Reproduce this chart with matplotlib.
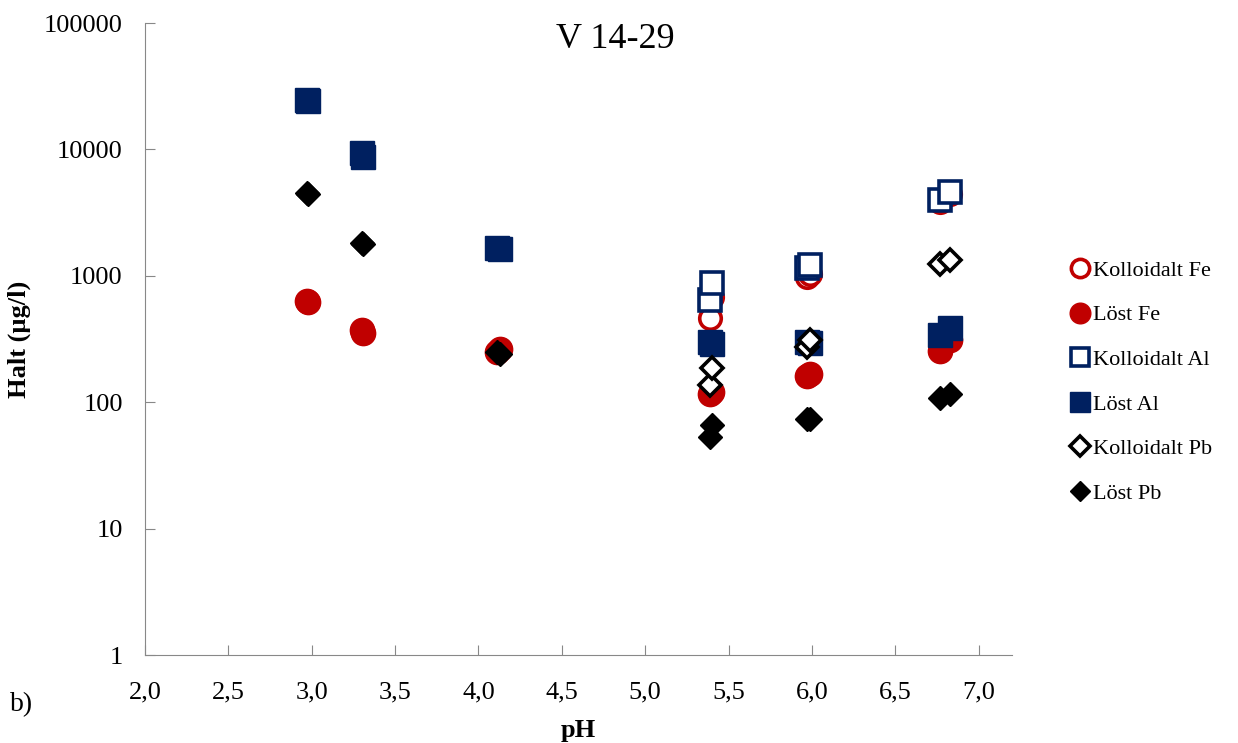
import matplotlib.pyplot as plt
import numpy as np
from matplotlib.ticker import FixedLocator, FixedFormatter

# pH for the two replicate samples at each site
ph = [2.97, 2.98, 3.30, 3.31, 4.11, 4.13, 5.39, 5.40, 5.97, 5.99, 6.77, 6.83]

# concentrations (µg/l), NaN where no point is shown
koll_fe = [np.nan, np.nan, np.nan, np.nan, np.nan, np.nan, 460, 680, 980, 1040, 3850, 4450]
lost_fe = [636, 620, 370, 350, 248, 265, 117, 120, 160, 167, 255, 310]
koll_al = [np.nan, np.nan, np.nan, np.nan, np.nan, np.nan, 640, 875, 1150, 1215, 3980, 4630]
lost_al = [24400, 24000, 9400, 8700, 1650, 1620, 300, 290, 300, 295, 339, 385]
koll_pb = [np.nan, np.nan, np.nan, np.nan, np.nan, np.nan, 136, 185, 274, 310, 1250, 1330]
lost_pb = [4500, 4450, 1807, 1790, 248, 240, 53, 66, 74, 74, 107, 117]

y_ticks = [1, 10, 100, 1000, 10000, 100000]
x_ticks = [2.0, 2.5, 3.0, 3.5, 4.0, 4.5, 5.0, 5.5, 6.0, 6.5, 7.0]

red = "#C00000"
navy = "#002060"

plt.rcParams["font.family"] = ["Liberation Serif", "DejaVu Serif"]

fig = plt.figure(figsize=(12.38, 7.43), dpi=100)
ax = fig.add_axes([145 / 1238, 1 - 655 / 743, (1012 - 145) / 1238, (655 - 23) / 743])

series = [
    ("Kolloidalt Fe", koll_fe, "o", red, False, 15.5),
    ("Löst Fe", lost_fe, "o", red, True, 17.5),
    ("Kolloidalt Al", koll_al, "s", navy, False, 15.5),
    ("Löst Al", lost_al, "s", navy, True, 17.5),
    ("Kolloidalt Pb", koll_pb, "D", "black", False, 11.5),
    ("Löst Pb", lost_pb, "D", "black", True, 12.5),
]

for label, vals, m, c, filled, ms in series:
    ax.plot(ph, vals, linestyle="none", marker=m, markersize=ms,
            markerfacecolor=c if filled else "white", markeredgecolor=c,
            markeredgewidth=1.0 if filled else 2.6, label=label)

ax.set_yscale("log")
ax.set_ylim(1, 100000)
ax.set_xlim(2.0, 7.2)
ax.yaxis.set_major_locator(FixedLocator(y_ticks))
ax.yaxis.set_major_formatter(FixedFormatter([str(v) for v in y_ticks]))
ax.yaxis.set_minor_locator(FixedLocator([]))
ax.xaxis.set_major_locator(FixedLocator(x_ticks))
ax.xaxis.set_major_formatter(FixedFormatter([f"{v:.1f}".replace(".", ",") for v in x_ticks]))

for s in ["top", "right"]:
    ax.spines[s].set_visible(False)
for s in ["left", "bottom"]:
    ax.spines[s].set_color("#888888")
ax.tick_params(direction="in", length=7, color="#888888", labelsize=19, pad=16)
ax.tick_params(axis="x", pad=19)

ax.set_xlabel("pH", fontsize=19, fontweight="bold", labelpad=11)
ax.set_ylabel("Halt (µg/l)", fontsize=19, fontweight="bold", labelpad=9)

fig.text(615 / 1238, 1 - 40 / 743, "V 14-29", fontsize=26, ha="center", va="center")
fig.text(10 / 1238, 1 - 705 / 743, "b)", fontsize=20, ha="left", va="center")

leg = ax.legend(loc="center left", bbox_to_anchor=(1.04, 0.432), frameon=False,
                fontsize=16, handletextpad=0.0, labelspacing=1.08, markerscale=0.85,
                handlelength=1.2)

fig.savefig("out.png", dpi=100)
